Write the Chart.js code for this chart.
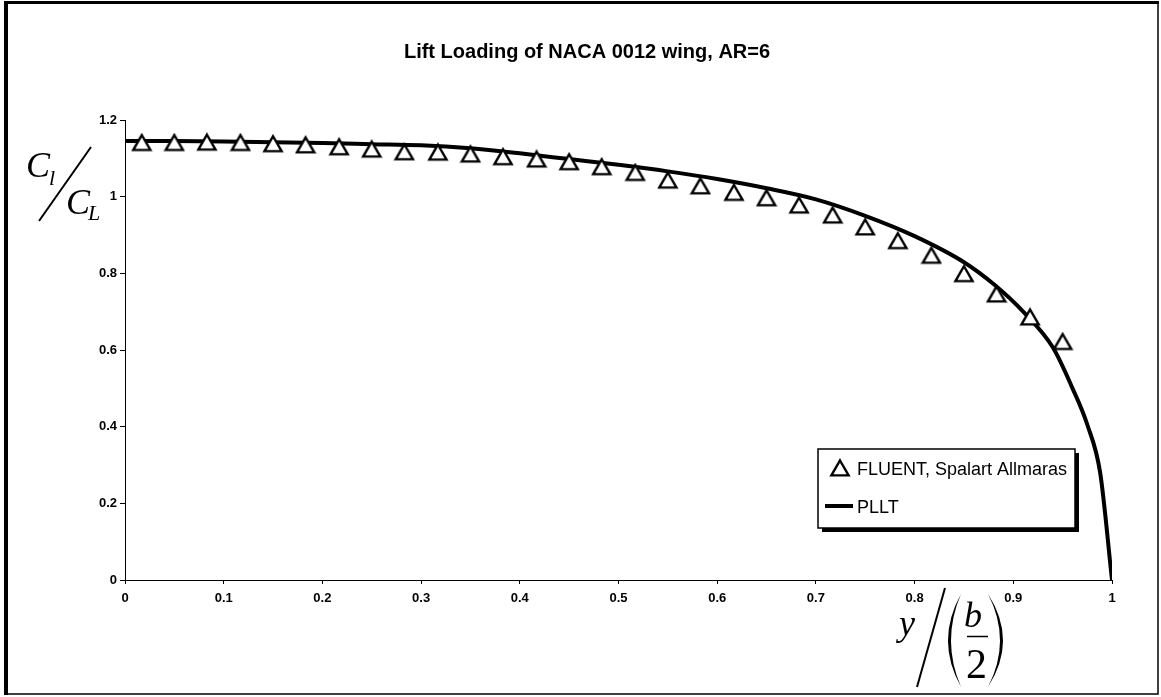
<!DOCTYPE html>
<html>
<head>
<meta charset="utf-8">
<title>Lift Loading of NACA 0012 wing</title>
<script src="https://cdn.jsdelivr.net/npm/chart.js@4.4.1/dist/chart.umd.min.js"></script>
<style>
  html, body { margin: 0; padding: 0; background: #fff; }
  #wrap { width: 1161px; height: 697px; }
</style>
</head>
<body>
<div id="wrap"><canvas id="liftChart" width="1161" height="697"></canvas></div>
<script>
// FLUENT (Spalart Allmaras) points
const fluentX = [0.017, 0.05, 0.083, 0.117, 0.15, 0.183, 0.217, 0.25, 0.283, 0.317,
  0.35, 0.383, 0.417, 0.45, 0.483, 0.517, 0.55, 0.583, 0.617, 0.65,
  0.683, 0.717, 0.75, 0.783, 0.817, 0.85, 0.883, 0.917, 0.95];
const fluentY = [1.141, 1.141, 1.142, 1.141, 1.138, 1.135, 1.130, 1.124, 1.117, 1.116,
  1.111, 1.104, 1.098, 1.091, 1.078, 1.063, 1.043, 1.028, 1.011, 0.997,
  0.978, 0.952, 0.921, 0.885, 0.847, 0.799, 0.746, 0.686, 0.622];

// PLLT curve
const plltX = [0, 0.05, 0.1, 0.15, 0.2, 0.25, 0.3, 0.35, 0.4, 0.45, 0.5, 0.55, 0.6,
  0.65, 0.7, 0.75, 0.8, 0.85, 0.88, 0.91, 0.94, 0.96, 0.975, 0.988, 1.0];
const plltY = [1.145, 1.145, 1.144, 1.142, 1.140, 1.137, 1.134, 1.126, 1.113, 1.098, 1.083, 1.066, 1.046,
  1.022, 0.993, 0.950, 0.897, 0.829, 0.772, 0.700, 0.607, 0.500, 0.405, 0.28, 0];

const xTickLabels = ['0', '0.1', '0.2', '0.3', '0.4', '0.5', '0.6', '0.7', '0.8', '0.9', '1'];
const yTickLabels = ['0', '0.2', '0.4', '0.6', '0.8', '1', '1.2'];

const seriesLabels = ['FLUENT, Spalart Allmaras', 'PLLT'];
const chartTitle = 'Lift Loading of NACA 0012 wing, AR=6';

const SANS = '"Liberation Sans", Arial, sans-serif';
const SERIF = '"Liberation Serif", "Times New Roman", serif';

// open triangle marker, centred on its bounding box like the Excel marker
function makeTriangle() {
  const c = document.createElement('canvas');
  c.width = 22;
  c.height = 20;
  const g = c.getContext('2d');
  g.beginPath();
  g.moveTo(11, 2.5);
  g.lineTo(19.6, 17.4);
  g.lineTo(2.4, 17.4);
  g.closePath();
  g.fillStyle = '#fff';
  g.fill();
  g.lineWidth = 2.4;
  g.strokeStyle = '#000';
  g.lineJoin = 'miter';
  g.stroke();
  return c;
}
const triangle = makeTriangle();

const toPoints = (xs, ys) => xs.map((x, i) => ({ x: x, y: ys[i] }));

const decorPlugin = {
  id: 'decor',
  beforeDraw(chart) {
    const ctx = chart.ctx;
    ctx.save();
    ctx.fillStyle = '#fff';
    ctx.fillRect(0, 0, chart.width, chart.height);
    ctx.restore();
  },
  afterDraw(chart) {
    const ctx = chart.ctx;
    ctx.save();
    ctx.fillStyle = '#000';
    ctx.strokeStyle = '#000';

    // outer frame
    ctx.lineWidth = 1.5;
    ctx.strokeRect(6, 3, 1152, 691);
    ctx.fillRect(4, 1, 4, 694);
    ctx.fillRect(4, 1, 1155, 3);

    // title
    ctx.font = 'bold 20px ' + SANS;
    ctx.textAlign = 'center';
    ctx.textBaseline = 'alphabetic';
    ctx.fillText(chartTitle, 587, 58);

    // y axis title  C_l / C_L
    ctx.textAlign = 'left';
    ctx.font = 'italic 36px ' + SERIF;
    ctx.fillText('C', 26, 177);
    ctx.fillText('C', 66, 214);
    ctx.font = 'italic 22px ' + SERIF;
    ctx.fillText('l', 49, 185);
    ctx.fillText('L', 88, 220);
    ctx.lineWidth = 2;
    ctx.beginPath();
    ctx.moveTo(91, 147);
    ctx.lineTo(39, 221);
    ctx.stroke();

    // x axis title  y / (b/2)
    ctx.font = 'italic 36px ' + SERIF;
    ctx.fillText('y', 899, 635);
    ctx.beginPath();
    ctx.moveTo(945, 588);
    ctx.lineTo(917, 687);
    ctx.stroke();
    // parentheses
    ctx.beginPath();
    ctx.moveTo(961, 594);
    ctx.quadraticCurveTo(935, 640.5, 961, 687);
    ctx.quadraticCurveTo(941, 640.5, 961, 594);
    ctx.fill();
    ctx.beginPath();
    ctx.moveTo(988, 594);
    ctx.quadraticCurveTo(1018, 640.5, 988, 687);
    ctx.quadraticCurveTo(1012, 640.5, 988, 594);
    ctx.fill();
    ctx.font = 'italic 36px ' + SERIF;
    ctx.fillText('b', 964, 627);
    ctx.lineWidth = 1.5;
    ctx.beginPath();
    ctx.moveTo(967, 636.5);
    ctx.lineTo(988, 636.5);
    ctx.stroke();
    ctx.font = '42px ' + SERIF;
    ctx.fillText('2', 966, 678);

    // legend box with shadow
    const lx = 818, ly = 449, lw = 257, lh = 79;
    ctx.fillRect(lx + 4, ly + 4, lw, lh);
    ctx.fillStyle = '#fff';
    ctx.fillRect(lx, ly, lw, lh);
    ctx.fillStyle = '#000';
    ctx.lineWidth = 1.5;
    ctx.strokeRect(lx, ly, lw, lh);

    const labels = chart.data.datasets.map(d => d.label);
    ctx.drawImage(triangle, 840 - 11, 468 - 10);
    ctx.lineWidth = 4;
    ctx.beginPath();
    ctx.moveTo(825, 506);
    ctx.lineTo(853, 506);
    ctx.stroke();
    ctx.font = '18px ' + SANS;
    ctx.fillText(labels[0], 857, 475);
    ctx.fillText(labels[1], 857, 513);

    ctx.restore();
  }
};

const ctx = document.getElementById('liftChart').getContext('2d');

new Chart(ctx, {
  type: 'scatter',
  data: {
    datasets: [
      {
        label: seriesLabels[0],
        data: toPoints(fluentX, fluentY),
        showLine: false,
        pointStyle: triangle,
        pointRadius: 10,
        pointHoverRadius: 10
      },
      {
        label: seriesLabels[1],
        data: toPoints(plltX, plltY),
        showLine: true,
        borderColor: '#000',
        borderWidth: 4,
        cubicInterpolationMode: 'monotone',
        pointRadius: 0,
        pointHoverRadius: 0,
        borderJoinStyle: 'round'
      }
    ]
  },
  options: {
    responsive: false,
    animation: false,
    events: [],
    layout: {
      padding: { top: 120, right: 49, left: 0, bottom: 0 }
    },
    scales: {
      x: {
        type: 'linear',
        min: 0,
        max: 1,
        afterFit: s => { s.height = 117; },
        ticks: {
          stepSize: 0.1,
          color: '#000',
          padding: 7,
          maxRotation: 0,
          autoSkip: false,
          font: { family: SANS, size: 13, weight: 'bold' },
          callback: (v, i) => xTickLabels[i]
        },
        grid: {
          drawOnChartArea: false,
          color: '#000',
          tickLength: 4,
          tickWidth: 1
        },
        border: { display: true, color: '#000', width: 1 }
      },
      y: {
        type: 'linear',
        min: 0,
        max: 1.2,
        afterFit: s => { s.width = 125; },
        ticks: {
          stepSize: 0.2,
          color: '#000',
          padding: 3,
          font: { family: SANS, size: 13, weight: 'bold' },
          callback: (v, i) => yTickLabels[i]
        },
        grid: {
          drawOnChartArea: false,
          color: '#000',
          tickLength: 5,
          tickWidth: 1
        },
        border: { display: true, color: '#000', width: 1 }
      }
    },
    plugins: {
      legend: { display: false },
      title: { display: false },
      tooltip: { enabled: false }
    }
  },
  plugins: [decorPlugin]
});
</script>
</body>
</html>
